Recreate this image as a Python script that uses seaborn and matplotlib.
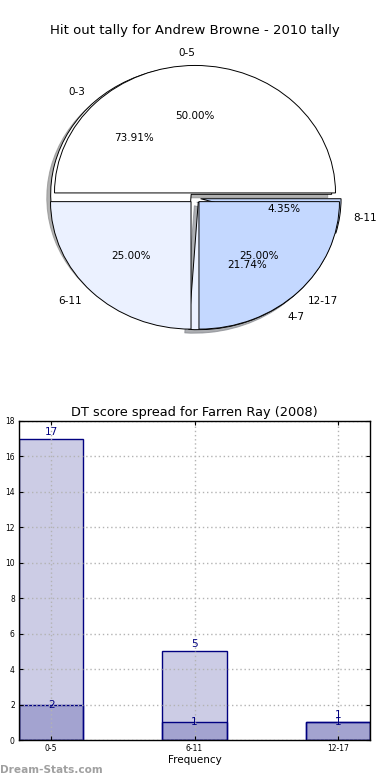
import numpy as np
import matplotlib
matplotlib.use("Agg")
import matplotlib.pyplot as plt
import seaborn as sns

# pie data (two pies drawn on top of each other)
hitout_labels = ["0-3", "4-7", "8-11"]
hitout_counts = [17, 5, 1]
spread_labels = ["0-5", "6-11", "12-17"]
spread_counts = [2, 1, 1]
pie_colors = ["#ffffff", "#ebf1ff", "#c4d8ff"]

# bar data
bar_labels = ["0-5", "6-11", "12-17"]
light_vals = [17, 5, 1]
dark_vals = [2, 1, 1]
y_ticks = list(range(0, 19, 2))

navy = (0.0, 0.0, 0.5)

fig = plt.figure(figsize=(3.9, 7.8), dpi=100)


def draw_pie(ax):
    wp = {"edgecolor": "black", "linewidth": 0.7}
    tp = {"fontsize": 7.5}
    ax.pie(hitout_counts, explode=[0.04] * 3, labels=hitout_labels,
           colors=pie_colors, autopct="%1.2f%%",
           shadow={"ox": -0.02, "oy": -0.02, "shade": 0.5, "alpha": 0.6},
           wedgeprops=wp, textprops=tp)
    ax.pie(spread_counts, explode=[0.04] * 3, labels=spread_labels,
           colors=pie_colors, autopct="%1.2f%%", shadow=False,
           wedgeprops=wp, textprops=tp)
    ax.set_aspect("auto")
    ax.set_xlim(-1.388, 1.388)
    ax.set_ylim(-1.349, 1.224)
    ax.set_title("Hit out tally for Andrew Browne - 2010 tally", fontsize=9.5, pad=6)


def draw_bars(ax):
    sns.barplot(x=bar_labels, y=light_vals, width=0.45, errorbar=None,
                color="white", edgecolor=navy, linewidth=1, ax=ax)
    sns.barplot(x=bar_labels, y=dark_vals, width=0.45, errorbar=None,
                color="white", edgecolor=navy, linewidth=1, ax=ax)
    for p in ax.patches:
        p.set_facecolor((0.0, 0.0, 0.5, 0.2))
    for i, v in enumerate(light_vals):
        ax.text(i, v + 0.12, str(v), color=navy, fontsize=7.5, ha="center", va="bottom")
    for i, v in enumerate(dark_vals):
        ax.text(i, v, str(v), color=navy, fontsize=7.5, ha="center", va="center")
    ax.set_xlim(-0.225, 2.225)
    ax.set_ylim(0, 18)
    ax.set_yticks(y_ticks)
    ax.grid(True, linestyle=(0, (1, 2)), color="0.7", linewidth=1)
    ax.set_axisbelow(False)
    ax.tick_params(direction="in", top=True, right=True, labelsize=5.5, length=3, pad=3)
    for s in ax.spines.values():
        s.set_visible(True)
        s.set_color("black")
        s.set_linewidth(1)
        s.set_zorder(5)
    ax.set_xlabel("Frequency", fontsize=7.5, labelpad=1)
    ax.set_ylabel("")
    ax.set_title("DT score spread for Farren Ray (2008)", fontsize=9.3, pad=3.5)


ax_pie = fig.add_axes([0.0, 410 / 780, 1.0, 328 / 780])
draw_pie(ax_pie)

ax_bar = fig.add_axes([19 / 390, 40 / 780, 351 / 390, 319 / 780])
draw_bars(ax_bar)

fig.text(0.0, 10 / 780, "Dream-Stats.com", color="#a0a0a0", fontsize=7.6,
         fontweight="bold", va="center", ha="left")

fig.savefig("out.png", dpi=100)
